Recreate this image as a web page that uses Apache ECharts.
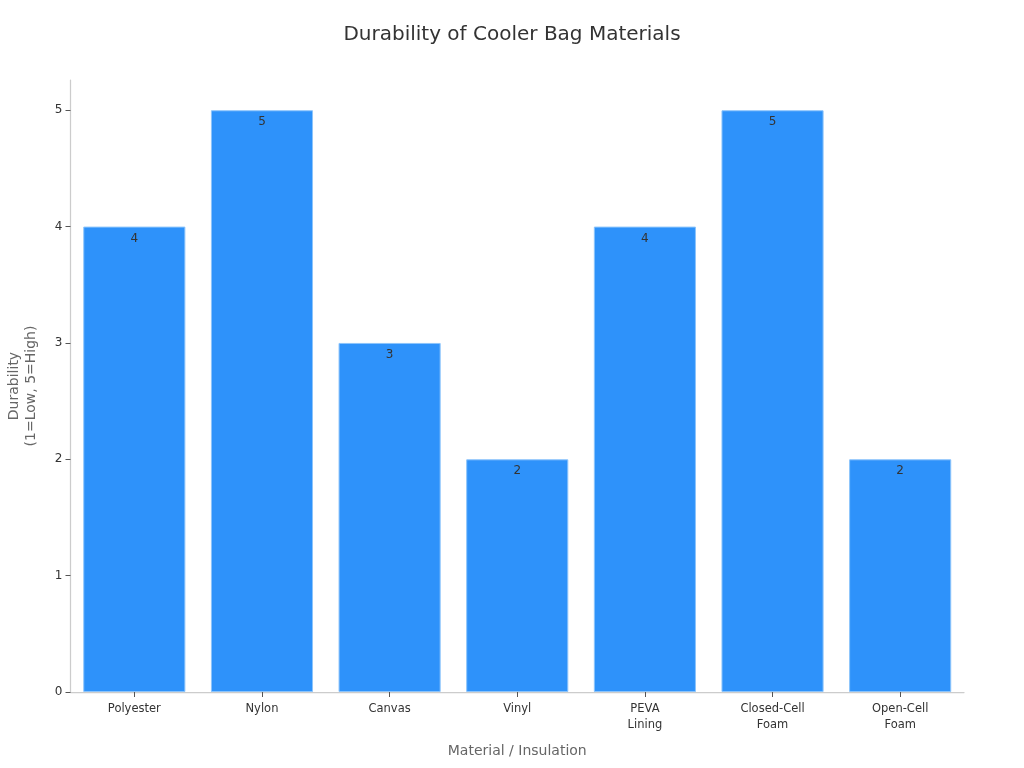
<!DOCTYPE html>
<html>
<head>
<meta charset="utf-8">
<style>
html, body { margin: 0; padding: 0; background: #fff; }
#box1 { width: 1024px; height: 768px; }
</style>
<script src="https://cdn.jsdelivr.net/npm/echarts@6/dist/echarts.min.js"></script>
</head>
<body>
<div id="box1"></div>
<script>
let categories = ['Polyester', 'Nylon', 'Canvas', 'Vinyl', 'PEVA\nLining', 'Closed-Cell\nFoam', 'Open-Cell\nFoam'];
let durability = [4, 5, 3, 2, 4, 5, 2];
let yTicks = [0, 1, 2, 3, 4, 5];

let box1 = document.querySelector('#box1');
let myChart1 = echarts.init(box1);
let fontName = 'DejaVu Sans';
let option1 = {
    animation: false,
    backgroundColor: '#fff',
    textStyle: { fontFamily: fontName },
    title: {
        text: 'Durability of Cooler Bag Materials',
        left: 'center',
        top: 20,
        textStyle: { fontFamily: fontName, fontSize: 20, fontWeight: 'normal', color: '#333' }
    },
    grid: { left: 70.5, right: 60, top: 80, bottom: 76, outerBoundsMode: 'none' },
    xAxis: {
        type: 'category',
        data: categories,
        name: 'Material / Insulation',
        nameLocation: 'middle',
        nameGap: 52,
        nameTextStyle: { fontSize: 14, color: '#666', fontFamily: fontName },
        axisLine: { lineStyle: { color: '#ccc', width: 1.25 } },
        axisTick: { show: true, alignWithLabel: true, length: 5, lineStyle: { color: '#555' } },
        axisLabel: { fontSize: 11.5, color: '#333', margin: 9, lineHeight: 16, fontFamily: fontName, interval: 0 }
    },
    yAxis: {
        type: 'value',
        min: 0,
        max: 5.26,
        name: 'Durability\n(1=Low, 5=High)',
        nameLocation: 'middle',
        nameGap: 31,
        nameRotate: 90,
        nameTextStyle: { fontSize: 14, color: '#666', lineHeight: 17, fontFamily: fontName },
        splitLine: { show: false },
        axisLine: { show: true, lineStyle: { color: '#ccc', width: 1.25 } },
        axisTick: { show: true, length: 5, customValues: yTicks, lineStyle: { color: '#555' } },
        axisLabel: { fontSize: 12, color: '#333', margin: 8, padding: [5, 0, 0, 0], customValues: yTicks, fontFamily: fontName }
    },
    series: [
        {
            type: 'bar',
            data: durability,
            barWidth: '80%',
            itemStyle: { color: '#2e92fa', borderColor: '#8cc4fb', borderWidth: 1 },
            label: {
                show: true,
                position: 'insideTop',
                distance: 6,
                fontSize: 12,
                color: '#333',
                fontFamily: fontName
            }
        }
    ]
};
myChart1.setOption(option1);
</script>
</body>
</html>
